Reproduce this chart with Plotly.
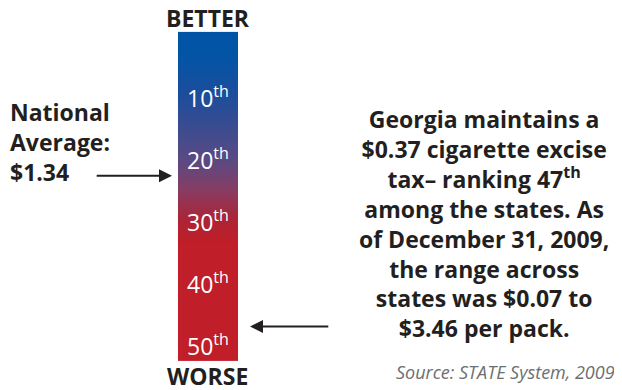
import plotly.graph_objects as go

# rank positions along the bar (1 = best, 50 = worst), grid runs a bit past both ends
bar_ranks = list(range(0, 53))
tick_ranks = [10, 20, 30, 40, 50]
tick_labels = ["10<sup>th</sup>", "20<sup>th</sup>", "30<sup>th</sup>", "40<sup>th</sup>", "50<sup>th</sup>"]

national_avg = "$1.34"
national_avg_rank = 22.7
georgia_rank = 47

note_lines = [
    "Georgia maintains a",
    "$0.37 cigarette excise",
    "tax– ranking 47<sup>th</sup>",
    "among the states. As",
    "of December 31, 2009,",
    "the range across",
    "states was $0.07 to",
    "$3.46 per pack.",
]
source = "Source: STATE System, 2009"

# page body keeps its default 8px margin, so the figure is 8px smaller
W, H = 614, 382
FONT = "Open Sans"
DARK = "#231f20"

fig = go.Figure()

fig.add_trace(go.Heatmap(
    x=[0],
    y=bar_ranks,
    z=[[r] for r in bar_ranks],
    zsmooth="best",
    showscale=False,
    hoverinfo="skip",
    colorscale=[
        [0.0, "#0054a6"],
        [0.077, "#0554a5"],
        [0.19, "#1e4d9b"],
        [0.385, "#5a4a84"],
        [0.48, "#873d63"],
        [0.577, "#ae2434"],
        [0.644, "#c01e28"],
        [1.0, "#c01e28"],
    ],
))

# rank labels inside the bar
for r, lab in zip(tick_ranks, tick_labels):
    fig.add_annotation(x=0, y=r, text=lab, showarrow=False,
                       font=dict(family=FONT, size=23, color="white"))

fig.add_annotation(x=0, y=-2.74, text="BETTER", showarrow=False,
                   font=dict(family=FONT, size=23, color=DARK, weight="bold"))
fig.add_annotation(x=0, y=55.0, text="WORSE", showarrow=False,
                   font=dict(family=FONT, size=23, color=DARK, weight="bold"))

# national average
fig.add_annotation(xref="paper", yref="paper", x=0.0, y=0.6505, xanchor="left", yanchor="middle",
                   text="National<br>Average:<br>" + national_avg, align="left",
                   showarrow=False,
                   font=dict(family=FONT, size=23, color=DARK, weight="bold"))
fig.add_annotation(x=-0.6, y=national_avg_rank, ax=-1.88, ay=national_avg_rank,
                   axref="x", ayref="y", text="", showarrow=True,
                   arrowhead=2, arrowsize=1.3, arrowwidth=2, arrowcolor=DARK)

# georgia
fig.add_annotation(x=0.7, y=georgia_rank, ax=2.03, ay=georgia_rank,
                   axref="x", ayref="y", text="", showarrow=True,
                   arrowhead=2, arrowsize=1.3, arrowwidth=2, arrowcolor=DARK)
fig.add_annotation(xref="paper", yref="paper", x=0.775, y=0.437, xanchor="center", yanchor="middle",
                   text="<br>".join(note_lines), align="center", showarrow=False,
                   font=dict(family=FONT, size=23, color=DARK, weight="bold"))

fig.add_annotation(xref="paper", yref="paper", x=0.992, y=0.047, xanchor="right", yanchor="middle",
                   text="<i>" + source + "</i>", showarrow=False,
                   font=dict(family=FONT, size=18, color="#6d6e71"))

fig.update_xaxes(range=[-3.333, 6.9], visible=False)
fig.update_yaxes(range=[57.26, -4.355], visible=False)
fig.update_layout(width=W, height=H, margin=dict(l=0, r=0, t=0, b=0),
                  plot_bgcolor="white", paper_bgcolor="white", showlegend=False)

fig.write_html("out.html")
